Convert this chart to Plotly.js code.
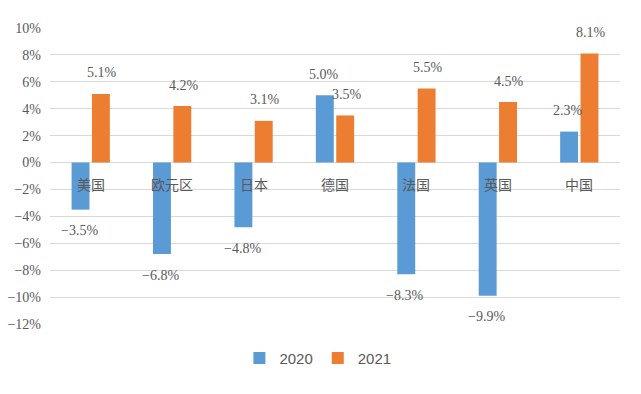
<!DOCTYPE html>
<html><head><meta charset="utf-8">
<script src="https://cdn.plot.ly/plotly-3.0.1.min.js"></script>
<style>body{margin:0;padding:0;background:#fff}#c{width:641px;height:394px}</style>
</head><body><div id="c"></div>
<script>
const categories = ["美国","欧元区","日本","德国","法国","英国","中国"];
const growth2020 = [-3.5,-6.8,-4.8,5.0,-8.3,-9.9,2.3];
const growth2021 = [5.1,4.2,3.1,3.5,5.5,4.5,8.1];
const seriesNames = ["2020","2021"];
const tickVals = [-12,-10,-8,-6,-4,-2,0,2,4,6,8,10];

const cjk = "'Noto Sans CJK SC', 'DejaVu Sans', sans-serif";
const num = "'Liberation Serif', 'DejaVu Serif', serif";
const sans = "'Liberation Sans', Arial, sans-serif";
const txtColor = "#595959";
const mk = (name, y, color) => ({
  type:"bar", name:name, x:categories, y:y,
  marker:{color:color}, hoverinfo:"none"
});
const data = [mk(seriesNames[0], growth2020, "#5B9BD5"), mk(seriesNames[1], growth2021, "#ED7D31")];
const annotations = categories.map(c => ({
  x:c, y:0, xref:"x", yref:"y", text:c, showarrow:false, yshift:-21,
  font:{family:cjk, size:14, color:txtColor}
}));
[growth2020, growth2021].forEach((arr, si) => {
  arr.forEach((v, i) => {
    annotations.push({
      x:categories[i], y:v, xref:"x", yref:"y",
      text:v.toFixed(1).replace("-", "\u2212") + "%",
      showarrow:false, xshift: si === 0 ? -11.5 : 11.5,
      yshift: v >= 0 ? 21 : -21,
      font:{family:num, size:14, color:txtColor}
    });
  });
});
const layout = {
  width:641, height:394,
  margin:{l:50, r:21, t:28, b:70},
  paper_bgcolor:"#fff", plot_bgcolor:"#fff",
  barmode:"group", bargap:0.5, bargroupgap:0.12,
  showlegend:true,
  legend:{orientation:"h", x:0.47, xanchor:"center", y:-0.06, yanchor:"top",
    font:{family:sans, size:15, color:txtColor}, itemwidth:30},
  xaxis:{showticklabels:false, showgrid:false, zeroline:false, showline:false, ticks:""},
  yaxis:{range:[-12,10], tickvals:tickVals, ticktext:tickVals.map(v=>(v<0?"\u2212"+(-v):v)+"%"),
    showgrid:true, gridcolor:"#d9d9d9", gridwidth:1,
    zeroline:true, zerolinecolor:"#d9d9d9", zerolinewidth:1,
    showline:false, ticks:"", ticklabelstandoff:8,
    tickfont:{family:num, size:14, color:txtColor}},
  annotations:annotations
};
Plotly.newPlot("c", data, layout, {displayModeBar:false, staticPlot:true});
</script></body></html>
